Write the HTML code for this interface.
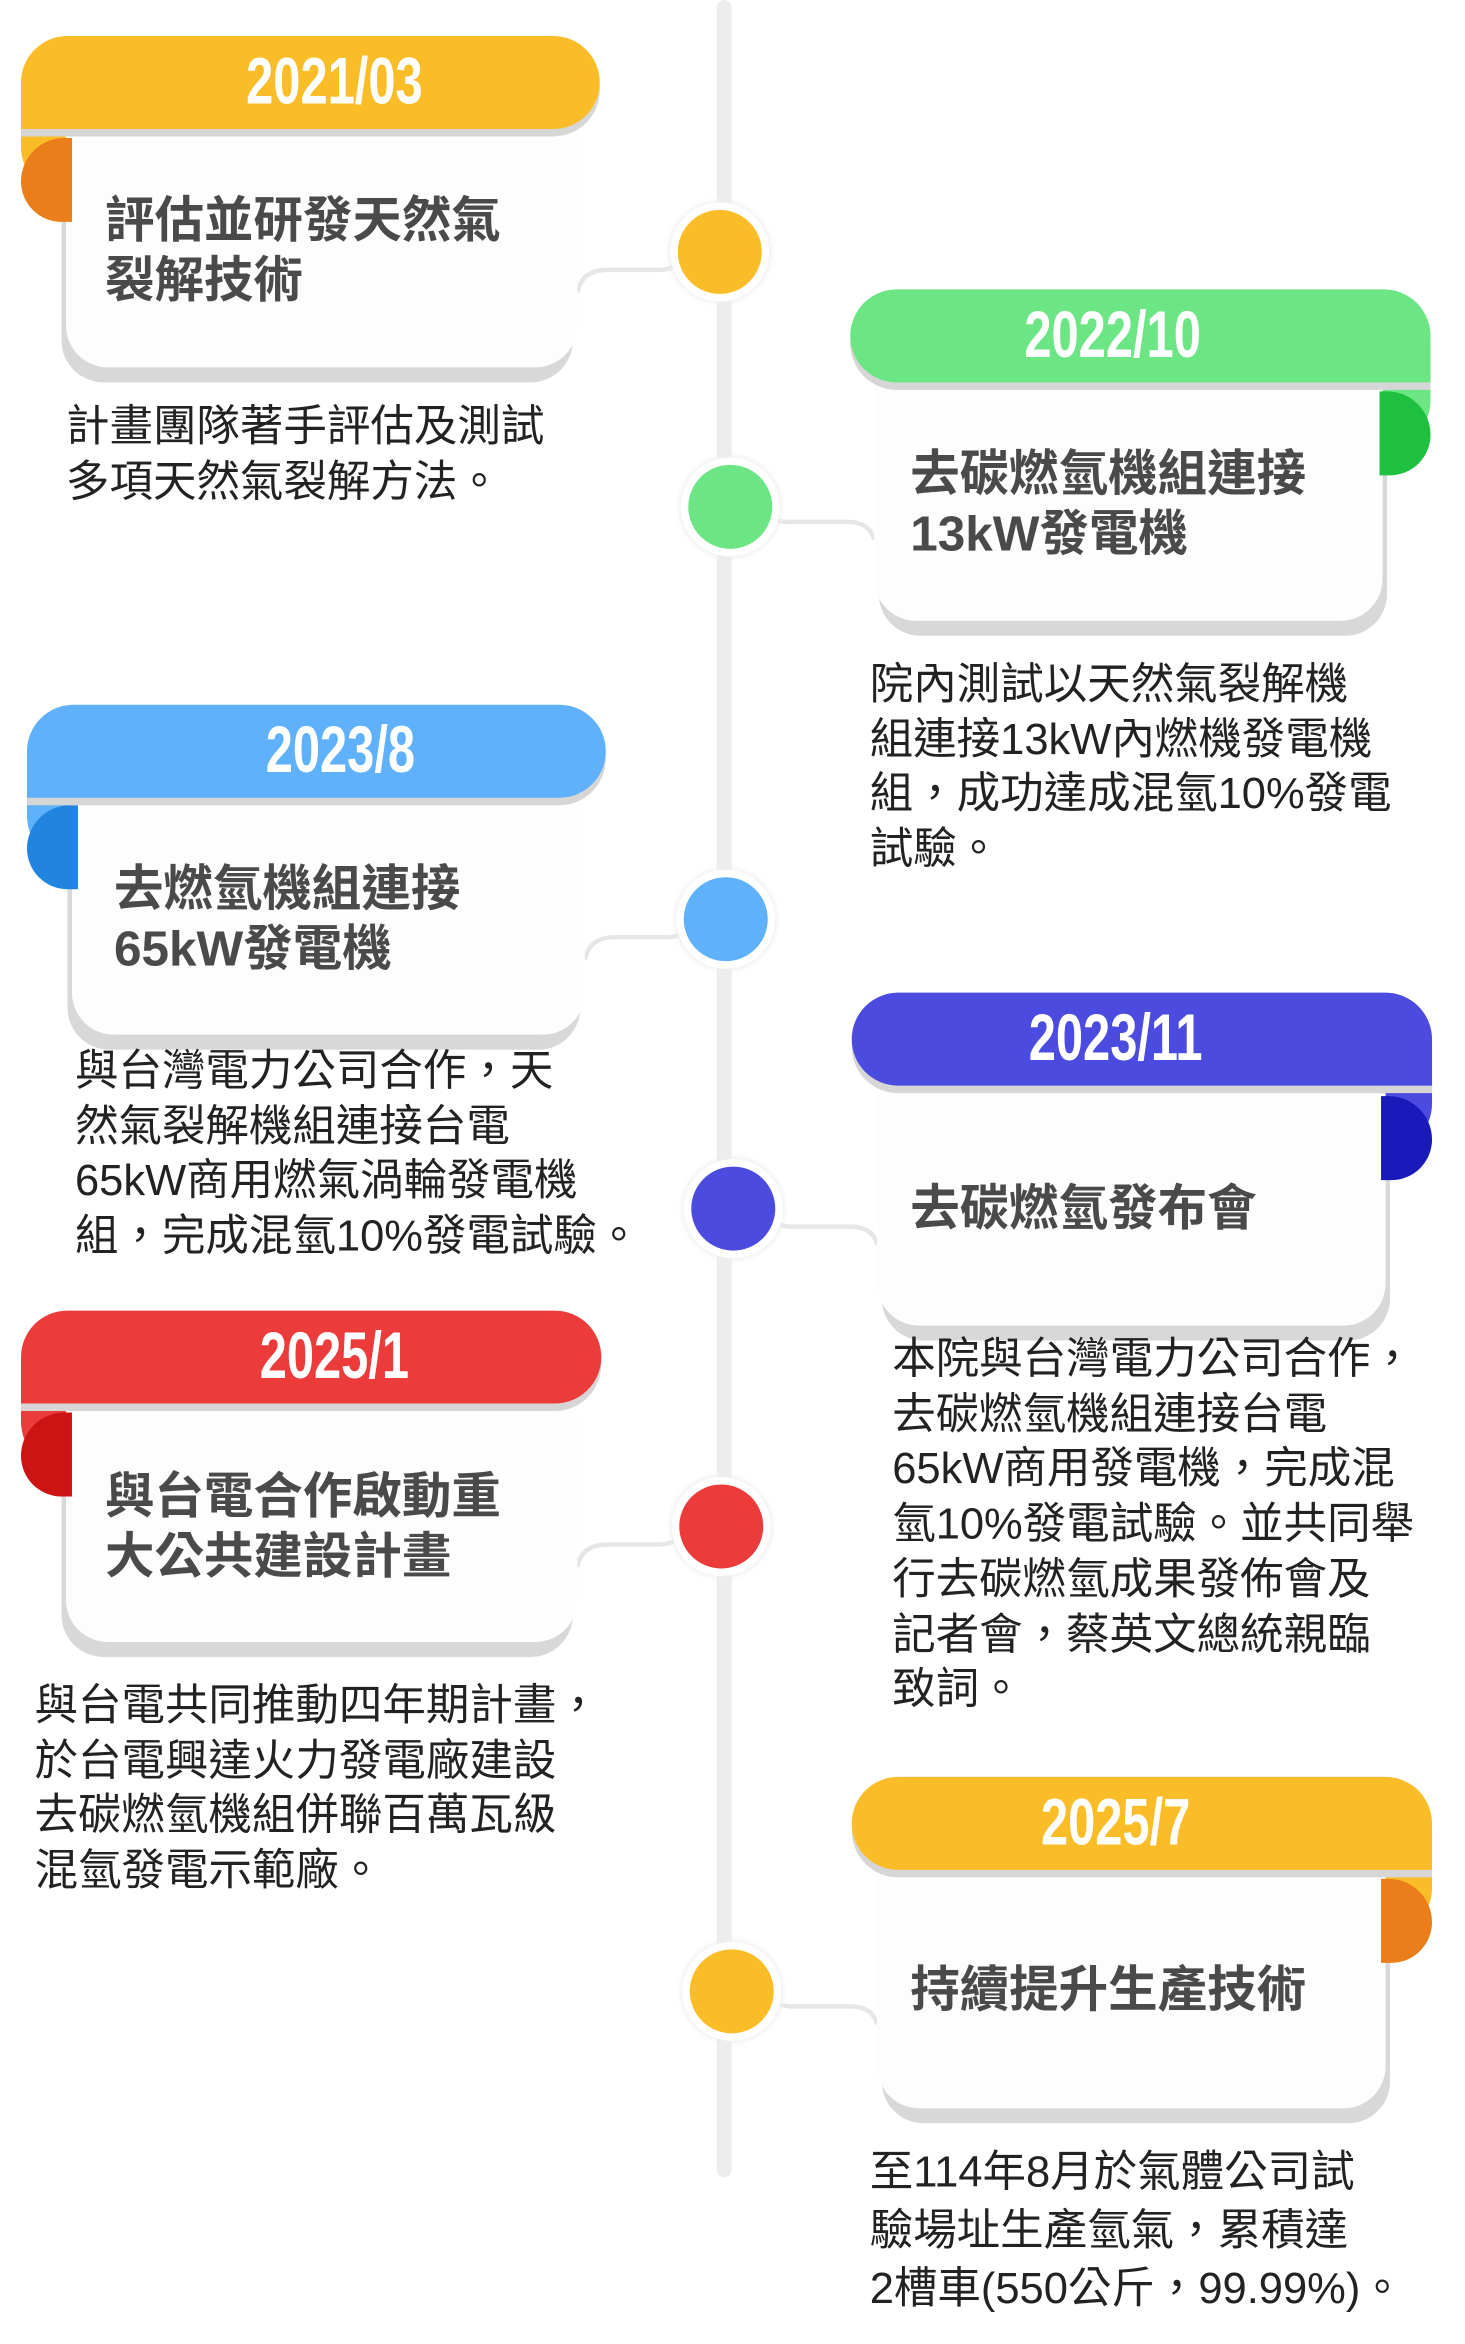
<!DOCTYPE html>
<html><head><meta charset="utf-8"><style>
html,body{margin:0;padding:0;background:#fff;}
body{width:1465px;height:2344px;overflow:hidden;position:relative;}
#w{position:absolute;left:0;top:0;width:977px;height:1563px;transform:scale(1.4995);transform-origin:0 0;}
.a{position:absolute;}
.ban{position:absolute;height:62px;box-shadow:0 5px 0 #d6d6d6;}
.ban span{position:absolute;top:0;width:300px;margin-left:-150px;text-align:center;color:#fff;font-family:"Liberation Sans",sans-serif;font-weight:bold;font-size:44px;line-height:62px;transform:scaleX(0.74);}
.banL{border-radius:32px 32px 32px 0;}
.banR{border-radius:32px 32px 0 32px;}
.und{position:absolute;width:34px;height:70px;}
.undL{border-radius:0 0 0 32px;}
.undR{border-radius:0 0 32px 0;}
.fold{position:absolute;width:34px;height:56px;}
.foldL{border-radius:32px 0 0 30px;}
.foldR{border-radius:0 32px 30px 0;}
.card{position:absolute;background:#fdfdfd;height:155px;}
.cardL{border-radius:0 0 28px 28px;box-shadow:-3px 10px 0 #d8d8d8;}
.cardR{border-radius:0 0 28px 28px;box-shadow:3px 10px 0 #d8d8d8;}
.t{position:absolute;font-family:"Liberation Sans","Noto Sans CJK TC",sans-serif;font-weight:bold;font-size:33px;line-height:40px;color:#4a4a4a;white-space:nowrap;}
.d{position:absolute;font-family:"Liberation Sans","Noto Sans CJK TC",sans-serif;font-size:29px;line-height:36.7px;color:#222;white-space:nowrap;}
.c{position:absolute;width:56px;height:56px;border-radius:50%;box-shadow:0 0 0 5px #fff,0 0 4px 6px #eee;}
</style></head><body><div id="w">
<div class="a" style="left:478px;top:0;width:10px;height:1452px;background:#ededed;border-radius:5px;"></div>
<svg class="a" style="left:0;top:0" width="977" height="1563">
<g fill="none" stroke="#e6e6e6" stroke-width="3">
<path d="M385 195 Q388 180 405 180 L440 180 Q452 180 458 168"/>
<path d="M583 360 Q580 348 565 348 L525 348 Q512 348 508 338"/>
<path d="M390 640 Q393 625 410 625 L445 625 Q458 625 462 613"/>
<path d="M585 830 Q582 818 567 818 L528 818 Q515 818 511 806"/>
<path d="M385 1045 Q388 1030 405 1030 L440 1030 Q452 1030 458 1018"/>
<path d="M585 1350 Q582 1338 567 1338 L528 1338 Q515 1338 511 1328"/>
</g></svg>
<div class="c" style="left:452px;top:140px;background:#fbbd27"></div>
<div class="c" style="left:459px;top:310px;background:#6ce685"></div>
<div class="c" style="left:456px;top:585px;background:#5eb1fa"></div>
<div class="c" style="left:461px;top:778px;background:#4b4be0"></div>
<div class="c" style="left:453px;top:990px;background:#ec3b3b"></div>
<div class="c" style="left:460px;top:1300px;background:#fbbd27"></div>

<!-- card1 -->
<div class="und undL" style="left:14px;top:60px;background:#fbbd27"></div>
<div class="card cardL" style="left:44px;top:90px;width:341px"></div>
<div class="fold foldL" style="left:14px;top:92px;background:#e97e1a"></div>
<div class="ban banL" style="left:14px;top:24px;width:386px;background:#fbbd27"><span style="left:209px">2021/03</span></div>
<div class="t" style="left:70px;top:127px">評估並研發天然氣<br>裂解技術</div>
<div class="d" style="left:44px;top:267px">計畫團隊著手評估及測試<br>多項天然氣裂解方法。</div>

<!-- card2 -->
<div class="und undR" style="left:920px;top:229px;background:#6ce685"></div>
<div class="card cardR" style="left:583px;top:259px;width:339px"></div>
<div class="fold foldR" style="left:920px;top:261px;background:#1fc040"></div>
<div class="ban banR" style="left:567px;top:193px;width:387px;background:#6ce685"><span style="left:175px">2022/10</span></div>
<div class="t" style="left:607px;top:296px">去碳燃氫機組連接<br>13kW發電機</div>
<div class="d" style="left:580px;top:439px">院內測試以天然氣裂解機<br>組連接13kW內燃機發電機<br>組，成功達成混氫10%發電<br>試驗。</div>

<!-- card3 -->
<div class="und undL" style="left:18px;top:506px;background:#5eb1fa"></div>
<div class="card cardL" style="left:48px;top:535px;width:342px"></div>
<div class="fold foldL" style="left:18px;top:537px;background:#2185e0"></div>
<div class="ban banL" style="left:18px;top:470px;width:386px;background:#5eb1fa"><span style="left:209px">2023/8</span></div>
<div class="t" style="left:76px;top:573px">去燃氫機組連接<br>65kW發電機</div>
<div class="d" style="left:50px;top:697px">與台灣電力公司合作，天<br>然氣裂解機組連接台電<br>65kW商用燃氣渦輪發電機<br>組，完成混氫10%發電試驗。</div>

<!-- card4 -->
<div class="und undR" style="left:921px;top:698px;background:#4b4be0"></div>
<div class="card cardR" style="left:585px;top:729px;width:339px"></div>
<div class="fold foldR" style="left:921px;top:731px;background:#1a1aba"></div>
<div class="ban banR" style="left:568px;top:662px;width:387px;background:#4b4be0"><span style="left:176px">2023/11</span></div>
<div class="t" style="left:607px;top:786px">去碳燃氫發布會</div>
<div class="d" style="left:595px;top:889px">本院與台灣電力公司合作，<br>去碳燃氫機組連接台電<br>65kW商用發電機，完成混<br>氫10%發電試驗。並共同舉<br>行去碳燃氫成果發佈會及<br>記者會，蔡英文總統親臨<br>致詞。</div>

<!-- card5 -->
<div class="und undL" style="left:14px;top:910px;background:#ec3b3b"></div>
<div class="card cardL" style="left:44px;top:940px;width:341px"></div>
<div class="fold foldL" style="left:14px;top:942px;background:#cc1414"></div>
<div class="ban banL" style="left:14px;top:874px;width:387px;background:#ec3b3b"><span style="left:209px">2025/1</span></div>
<div class="t" style="left:70px;top:978px">與台電合作啟動重<br>大公共建設計畫</div>
<div class="d" style="left:23px;top:1120px">與台電共同推動四年期計畫，<br>於台電興達火力發電廠建設<br>去碳燃氫機組併聯百萬瓦級<br>混氫發電示範廠。</div>

<!-- card6 -->
<div class="und undR" style="left:921px;top:1221px;background:#fbbd27"></div>
<div class="card cardR" style="left:585px;top:1251px;width:339px"></div>
<div class="fold foldR" style="left:921px;top:1253px;background:#e97e1a"></div>
<div class="ban banR" style="left:568px;top:1185px;width:387px;background:#fbbd27"><span style="left:176px">2025/7</span></div>
<div class="t" style="left:607px;top:1307px">持續提升生產技術</div>
<div class="d" style="left:580px;top:1430px;line-height:39px">至114年8月於氣體公司試<br>驗場址生產氫氣，累積達<br>2槽車(550公斤，99.99%)。</div>
</div></body></html>
